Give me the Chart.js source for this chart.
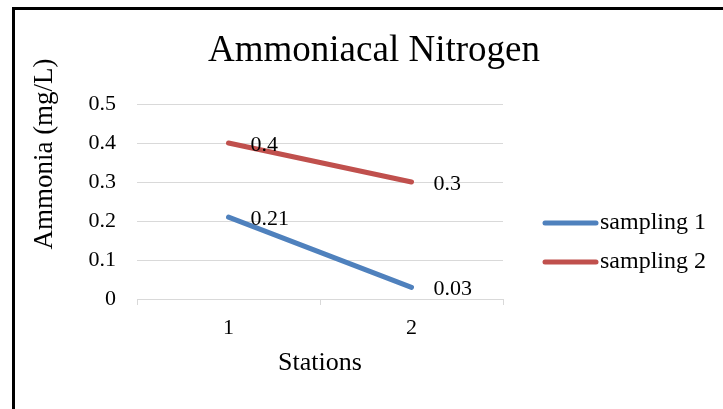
<!DOCTYPE html>
<html>
<head>
<meta charset="utf-8">
<title>Ammoniacal Nitrogen</title>
<script src="https://cdn.jsdelivr.net/npm/chart.js@4/dist/chart.umd.min.js"></script>
<style>
  html, body { margin: 0; padding: 0; background: #fff; overflow: hidden; }
  #wrap { position: relative; width: 723px; height: 409px; }
  #lineChart { position: absolute; left: 0; top: 0; }
  #frame {
    position: absolute; left: 12px; top: 7px;
    width: 800px; height: 500px;
    border: 3px solid #000; pointer-events: none;
  }
</style>
</head>
<body>
<div id="wrap">
  <canvas id="lineChart" width="723" height="409"></canvas>
  <div id="frame"></div>
</div>
<script>
const stations = ['1', '2'];
const sampling1 = [0.21, 0.03];
const sampling2 = [0.4, 0.3];
const yTicks = ['0', '0.1', '0.2', '0.3', '0.4', '0.5'];
const seriesNames = ['sampling 1', 'sampling 2'];
const seriesColors = ['#4f81bd', '#c0504d'];

const chartTitle = 'Ammoniacal Nitrogen';
const yTitle = 'Ammonia (mg/L)';
const xTitle = 'Stations';

const serif = 'Liberation Serif, Times New Roman, serif';

// title, y title, value labels and legend are painted here
const extras = {
    id: 'extras',
    afterDatasetsDraw(chart) {
        const ctx = chart.ctx;
        ctx.save();
        ctx.fillStyle = '#000';

        ctx.font = '22px ' + serif;
        ctx.textAlign = 'left';
        ctx.textBaseline = 'middle';
        chart.data.datasets.forEach((ds, i) => {
            chart.getDatasetMeta(i).data.forEach((pt, j) => {
                ctx.fillText(String(ds.data[j]), pt.x + 22, pt.y + 2);
            });
        });

        ctx.font = '37px ' + serif;
        ctx.textAlign = 'center';
        ctx.fillText(chartTitle, 374, 51);

        ctx.save();
        ctx.translate(45, 154);
        ctx.rotate(-Math.PI / 2);
        ctx.font = '27px ' + serif;
        ctx.fillText(yTitle, 0, 0);
        ctx.restore();

        ctx.font = '24px ' + serif;
        ctx.textAlign = 'left';
        ctx.lineCap = 'round';
        ctx.lineWidth = 5;
        seriesNames.forEach((name, i) => {
            const ly = 223 + i * 39;
            ctx.strokeStyle = seriesColors[i];
            ctx.beginPath();
            ctx.moveTo(545, ly);
            ctx.lineTo(596, ly);
            ctx.stroke();
            ctx.fillText(name, 600, ly);
        });
        ctx.restore();
    }
};

const ctx = document.getElementById('lineChart').getContext('2d');
new Chart(ctx, {
    type: 'line',
    data: {
        labels: stations,
        datasets: [sampling1, sampling2].map((vals, i) => ({
            label: seriesNames[i],
            data: vals,
            borderColor: seriesColors[i],
            backgroundColor: seriesColors[i],
            borderWidth: 5,
            borderCapStyle: 'round',
            pointRadius: 0,
            tension: 0
        }))
    },
    options: {
        responsive: false,
        animation: false,
        devicePixelRatio: 1,
        layout: { padding: { left: 15, right: 220, top: 104, bottom: 0 } },
        plugins: {
            legend: { display: false },
            title: { display: false },
            tooltip: { enabled: false }
        },
        scales: {
            x: {
                offset: true,
                grid: {
                    offset: true,
                    drawOnChartArea: false,
                    drawTicks: true,
                    tickLength: 6,
                    color: '#d9d9d9'
                },
                border: { display: true, color: '#d9d9d9' },
                ticks: { color: '#000', font: { family: serif, size: 22 }, padding: 10 },
                title: {
                    display: true,
                    text: xTitle,
                    color: '#000',
                    font: { family: serif, size: 26 },
                    padding: { top: 0, bottom: 30 }
                },
                afterFit(scale) { scale.height = 110; }
            },
            y: {
                min: 0,
                max: 0.5,
                ticks: {
                    stepSize: 0.1,
                    color: '#000',
                    font: { family: serif, size: 22 },
                    padding: 21,
                    callback: (v, i) => yTicks[i]
                },
                grid: { color: '#d9d9d9', drawTicks: false },
                border: { display: false },
                afterFit(scale) { scale.width = 122; }
            }
        }
    },
    plugins: [extras]
});
</script>
</body>
</html>
